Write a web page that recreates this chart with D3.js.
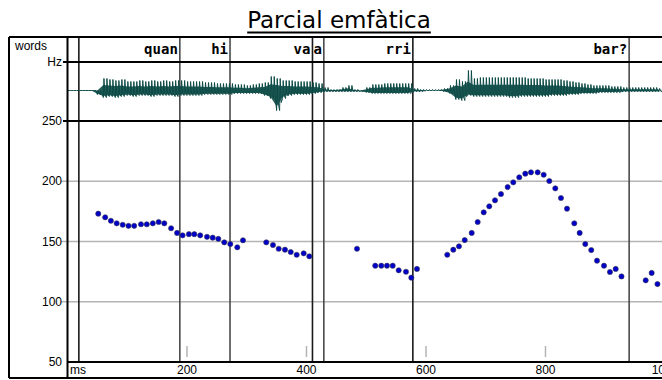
<!DOCTYPE html>
<html>
<head>
<meta charset="utf-8">
<script src="https://cdn.jsdelivr.net/npm/d3@7"></script>
<style>
  body { margin: 0; background: #fff; }
  svg { display: block; }
</style>
</head>
<body>
<script>
// ---- data ----
const title = "Parcial emfàtica";

// F0 track: time (ms) and pitch (Hz)
const pitchMs = [51.5, 63.1, 72.6, 82.3, 92.4, 102.1, 111.6, 123.0, 132.7, 142.8, 152.6, 162.0,
  173.4, 183.4, 192.6, 203.2, 212.2, 222.1, 233.5, 243.0, 252.4, 262.4, 272.5, 284.2, 293.7,
  332.7, 343.9, 353.5, 364.0, 373.6, 383.6, 395.3, 404.7,
  484.5, 515.1, 525.2, 534.7, 544.3, 554.3, 566.5, 575.4, 584.9,
  635.6, 645.7, 655.2, 664.8, 676.5, 686.5, 696.6, 705.9, 715.5, 725.5, 736.7, 746.1, 756.1,
  766.2, 775.7, 786.9, 797.0, 806.4, 816.4, 825.9, 836.0, 848.2, 857.2, 866.6, 876.6, 886.2,
  897.9, 907.9, 917.5, 927.2, 967.7, 977.7, 987.4];
const pitchHz = [173.1, 170.1, 167.2, 165.1, 163.9, 163.0, 163.0, 164.3, 164.3, 165.1, 166.2, 165.1,
  161.0, 157.1, 155.1, 156.1, 156.1, 155.1, 153.9, 153.2, 152.2, 149.3, 147.9, 145.2, 151.0,
  149.3, 147.1, 144.0, 143.2, 141.3, 139.0, 140.2, 137.7,
  144.0, 129.9, 129.9, 129.9, 129.9, 126.1, 124.9, 120.0, 127.2,
  139.0, 143.2, 146.0, 151.2, 157.1, 166.2, 174.2, 179.2, 184.2, 189.4, 195.2, 199.1, 203.3,
  206.3, 207.4, 207.4, 205.4, 200.2, 194.1, 186.1, 177.2, 165.1, 157.1, 147.9, 142.9, 134.1,
  129.9, 124.7, 127.2, 121.0, 117.8, 123.9, 114.7];

// word segmentation: boundaries (ms) and the word closing each interval
const boundaryMs = [19, 188, 272, 410, 429, 578, 940];
const words = ["quan", "hi", "va", "a", "rri", "bar?"];

// tick labels
const hzTicks = [250, 200, 150, 100, 50];
const hzGrid = [200, 150, 100];
const msTicks = [200, 400, 600, 800, 1000];

// waveform envelope, one sample every 10 ms from 0 ms: positive / negative excursion
const waveStepMs = 10;
const waveHi = [0, 0, 0, 0, 0, 0, 12, 11, 10, 11, 9, 9, 10, 9, 10, 9, 10, 9, 10, 10,
  9, 9, 9, 8, 8, 7, 7, 7, 6, 6, 5, 6, 7, 8, 14, 12, 10, 10, 9, 9,
  9, 8, 7, 3, 1, 1, 3, 5, 1, 0, 3, 6, 6, 7, 7, 7, 7, 7, 2, 1,
  1, 1, 1, 2, 5, 11, 9, 20, 12, 13, 13, 13, 13, 13, 13, 13, 13, 12, 12, 12,
  11, 11, 11, 10, 9, 8, 7, 6, 5, 5, 5, 4, 4, 3, 3, 3, 3, 3, 3, 2];
const waveLo = [0, 0, 0, 0, 0, -4, -7, -6, -7, -6, -5, -6, -5, -5, -6, -5, -5, -5, -6, -5,
  -5, -5, -5, -4, -4, -4, -4, -4, -3, -3, -3, -3, -3, -5, -8, -20, -8, -5, -4, -4,
  -4, -3, -2, -1, -1, -1, -1, -1, -1, -1, -2, -3, -3, -3, -3, -3, -3, -3, -1, -1,
  0, 0, 0, -1, -3, -9, -10, -5, -6, -6, -6, -6, -6, -6, -7, -7, -6, -6, -6, -6,
  -6, -5, -5, -5, -4, -4, -3, -3, -3, -2, -2, -2, -2, -1, -1, -1, -1, -1, -1, -1];

// ---- layout ----
const W = 662, H = 380;
const frameL = 9, frameT = 37, frameB = 378;
const headerB = 62;

const svg = d3.select("body").append("svg")
  .attr("width", W).attr("height", H)
  .attr("viewBox", `0 0 ${W} ${H}`);

const x = d3.scaleLinear().domain([0, 995]).range([67.5, 662]);
const y = d3.scaleLinear().domain([50, 250]).range([362, 121]);
const amp = d3.scaleLinear().domain([-30, 30]).range([120.5, 60.5]);

const sans = "'Liberation Sans', Arial, sans-serif";
const waveColor = "#0c4a46";

// title with underline
const t = svg.append("text")
  .attr("x", 339).attr("y", 28)
  .attr("text-anchor", "middle")
  .attr("font-family", "'DejaVu Sans', Verdana, sans-serif")
  .attr("font-size", 23)
  .attr("fill", "#000")
  .text(title);
const tb = t.node().getBBox();
svg.append("line")
  .attr("x1", tb.x).attr("x2", tb.x + tb.width)
  .attr("y1", 32.5).attr("y2", 32.5)
  .attr("stroke", "#000").attr("stroke-width", 2);

// horizontal pitch grid
svg.append("g").selectAll("line").data(hzGrid).join("line")
  .attr("x1", 61).attr("x2", W)
  .attr("y1", d => y(d)).attr("y2", d => y(d))
  .attr("stroke", "#b4b4b4").attr("stroke-width", 1.5);

// small time ticks at the foot of the pitch panel
svg.append("g").selectAll("line").data(msTicks).join("line")
  .attr("x1", d => x(d)).attr("x2", d => x(d))
  .attr("y1", 346).attr("y2", 357)
  .attr("stroke", "#b4b4b4").attr("stroke-width", 1.5);

// word boundaries
svg.append("g").selectAll("line").data(boundaryMs).join("line")
  .attr("x1", d => x(d)).attr("x2", d => x(d))
  .attr("y1", frameT).attr("y2", y(50))
  .attr("stroke", (d, i) => (i === 0 || i === 3 || i === 5) ? "#1a1a1a" : "#4a4a4a")
  .attr("stroke-width", 1.6);

// word labels, right-aligned against their closing boundary
svg.append("g").selectAll("text").data(words).join("text")
  .attr("x", (d, i) => x(boundaryMs[i + 1]) - 2)
  .attr("y", 54)
  .attr("text-anchor", "end")
  .attr("font-family", "'DejaVu Sans Mono', monospace")
  .attr("font-weight", "bold")
  .attr("font-size", 14)
  .attr("fill", "#000")
  .text(d => d);

// waveform: dense core band plus periodic vertical excursions
const waveT = waveHi.map((_, i) => i * waveStepMs);
const band = d3.area()
  .x((d, i) => x(waveT[i]))
  .y0((d, i) => amp(waveLo[i] * 0.8))
  .y1((d, i) => amp(waveHi[i] * 0.45));
svg.append("path")
  .datum(waveHi)
  .attr("d", band)
  .attr("fill", waveColor)
  .attr("opacity", 0.9);

const tracePts = [];
waveT.forEach((ms, i) => {
  const x0 = x(ms), x1 = x(ms + waveStepMs / 2);
  tracePts.push([x0, amp(waveLo[i])]);
  tracePts.push([x0 + 0.6, amp(waveHi[i])]);
  tracePts.push([x0 + 1.6, amp(waveLo[i] * 0.6)]);
  tracePts.push([x1, amp(waveLo[i])]);
  tracePts.push([x1 + 0.6, amp(waveHi[i])]);
  tracePts.push([x1 + 1.6, amp(waveLo[i] * 0.6)]);
});
svg.append("path")
  .attr("d", d3.line()(tracePts))
  .attr("fill", "none")
  .attr("stroke", waveColor)
  .attr("stroke-width", 1)
  .attr("stroke-linejoin", "miter");

// pitch points
svg.append("g").selectAll("circle").data(pitchMs).join("circle")
  .attr("cx", d => x(d))
  .attr("cy", (d, i) => y(pitchHz[i]))
  .attr("r", 2.6)
  .attr("fill", "#0000c8")
  .attr("stroke", "#3a3a55")
  .attr("stroke-width", 0.6);

// frame lines
const frame = svg.append("g").attr("stroke", "#000").attr("stroke-width", 2);
frame.append("line").attr("x1", frameL).attr("x2", W).attr("y1", frameT).attr("y2", frameT);
frame.append("line").attr("x1", 63).attr("x2", W).attr("y1", headerB).attr("y2", headerB);
frame.append("line").attr("x1", 63).attr("x2", W).attr("y1", y(250)).attr("y2", y(250));
frame.append("line").attr("x1", x(0)).attr("x2", W).attr("y1", y(50)).attr("y2", y(50));
frame.append("line").attr("x1", frameL).attr("x2", W).attr("y1", frameB).attr("y2", frameB);
frame.append("line").attr("x1", frameL).attr("x2", frameL).attr("y1", frameT).attr("y2", frameB);
frame.append("line").attr("x1", x(0)).attr("x2", x(0)).attr("y1", frameT).attr("y2", frameB);

// left labels
svg.append("text").attr("x", 15).attr("y", 50)
  .attr("font-family", sans).attr("font-size", 12).text("words");
svg.append("text").attr("x", 62).attr("y", 65.5)
  .attr("text-anchor", "end")
  .attr("font-family", sans).attr("font-size", 12).text("Hz");
svg.append("g").selectAll("text").data(hzTicks).join("text")
  .attr("x", 62).attr("y", d => y(d) + 4)
  .attr("text-anchor", "end")
  .attr("font-family", sans).attr("font-size", 12)
  .text(d => d);

// time axis labels (the last one runs off the right edge)
svg.append("text").attr("x", 70).attr("y", 374)
  .attr("font-family", sans).attr("font-size", 12).text("ms");
svg.append("g").selectAll("text").data(msTicks).join("text")
  .attr("x", d => x(d)).attr("y", 374)
  .attr("text-anchor", "middle")
  .attr("font-family", sans).attr("font-size", 12)
  .text(d => d);
</script>
</body>
</html>
